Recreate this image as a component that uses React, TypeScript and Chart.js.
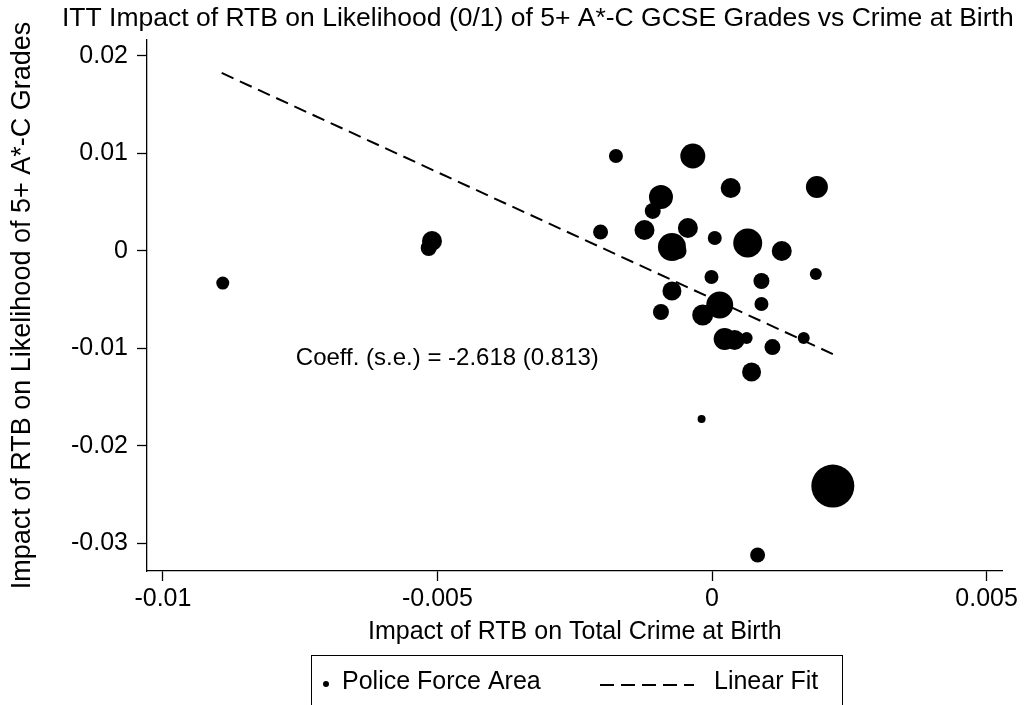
import React, { useEffect, useRef } from "react";
import { Chart, registerables } from "chart.js";

Chart.register(...registerables);

const FONT = "'Liberation Sans', Arial, sans-serif";

// Police force area estimates: impact on crime at birth (x) and on GCSE likelihood (y)
const crimeImpact = [
  -0.00891, -0.0051, -0.00516, -0.00175, -0.00035, 0.00034, 0.00191, -0.00093,
  -0.00108, -0.00203, -0.00123, -0.00073, -0.00061, -0.00044, 0.00005, 0.00065,
  0.00127, 0.00189, -0.00001, 0.0009, -0.00073, 0.0009, -0.00093, 0.00014,
  -0.00017, 0.00023, 0.00041, 0.00063, 0.0011, 0.00167, 0.00072, -0.00019,
  0.0022, 0.00083,
];
const gradeImpact = [
  -0.00331, 0.00101, 0.00029, 0.00973, 0.00973, 0.00645, 0.00655, 0.00552,
  0.00409, 0.00193, 0.00214, 0.00039, -0.00002, 0.00234, 0.00131, 0.0008,
  -0.00002, -0.00238, -0.00269, -0.0031, -0.00413, -0.00546, -0.00628, -0.00556,
  -0.00659, -0.00906, -0.00916, -0.00895, -0.00988, -0.00895, -0.01244, -0.01727,
  -0.02415, -0.03123,
];
// analytic weight of each area (marker radius)
const areaWeight = [
  6.5, 10, 8, 7, 12.5, 10, 11, 12,
  8, 7.5, 10, 14, 8, 10, 7, 14.5,
  10, 6, 7, 8, 9.5, 7, 8, 13.5,
  10.5, 11, 10, 6, 8, 6, 9.5, 4,
  21.5, 7.5,
];

const fitX = [-0.00893, 0.0022];
const fitY = [0.01826, -0.0106];

const xTicks = [-0.01, -0.005, 0, 0.005];
const xTickLabels = ["-0.01", "-0.005", "0", "0.005"];
const yTicks = [0.02, 0.01, 0, -0.01, -0.02, -0.03];
const yTickLabels = ["0.02", "0.01", "0", "-0.01", "-0.02", "-0.03"];

const titleText =
  "ITT Impact of RTB on Likelihood (0/1) of 5+ A*-C GCSE Grades vs Crime at Birth";
const xTitle = "Impact of RTB on Total Crime at Birth";
const yTitle = "Impact of RTB on Likelihood of 5+ A*-C Grades";
const annotation = "Coeff. (s.e.) = -2.618 (0.813)";
const annotationAt = { x: -0.00758, y: -0.011 };
const legendLabels = ["Police Force Area", "Linear Fit"];

function labelFor(values: number[], labels: string[], v: number) {
  let best = 0;
  for (let i = 0; i < values.length; i++) {
    if (Math.abs(values[i] - v) < Math.abs(values[best] - v)) best = i;
  }
  return labels[best];
}

const overlay = {
  id: "overlay",
  afterDraw(chart: any) {
    const ctx = chart.ctx;
    const xs = chart.scales.x;
    const ys = chart.scales.y;
    ctx.save();
    ctx.fillStyle = "#000";
    ctx.strokeStyle = "#000";
    ctx.textBaseline = "middle";
    ctx.textAlign = "left";
    // main title
    ctx.font = `26.5px ${FONT}`;
    ctx.fillText(titleText, 62, 19);
    // annotation
    ctx.font = `24px ${FONT}`;
    ctx.fillText(
      annotation,
      xs.getPixelForValue(annotationAt.x),
      ys.getPixelForValue(annotationAt.y)
    );
    // legend box
    ctx.lineWidth = 1;
    ctx.strokeRect(311.5, 655.5, 531, 80);
    const ly = 682;
    ctx.beginPath();
    ctx.arc(326, ly + 2, 3, 0, Math.PI * 2);
    ctx.fill();
    ctx.font = `25px ${FONT}`;
    ctx.fillText(legendLabels[0], 342, ly);
    ctx.lineWidth = 2;
    ctx.setLineDash([14, 7]);
    ctx.beginPath();
    ctx.moveTo(600, ly + 3);
    ctx.lineTo(694, ly + 3);
    ctx.stroke();
    ctx.setLineDash([]);
    ctx.fillText(legendLabels[1], 714, ly);
    ctx.restore();
  },
};

export default function App() {
  const ref = useRef<HTMLCanvasElement | null>(null);
  useEffect(() => {
    if (!ref.current) return;
    const points = crimeImpact.map((x, i) => ({ x, y: gradeImpact[i], r: areaWeight[i] }));
    const fit = fitX.map((x, i) => ({ x, y: fitY[i] }));
    const chart = new Chart(ref.current, {
      type: "bubble",
      data: {
        datasets: [
          {
            type: "bubble",
            label: legendLabels[0],
            data: points as any,
            backgroundColor: "#000",
            borderColor: "#000",
            borderWidth: 0,
          } as any,
          {
            type: "line",
            label: legendLabels[1],
            data: fit as any,
            borderColor: "#000",
            borderWidth: 2,
            borderDash: [13, 7],
            pointRadius: 0,
            fill: false,
            tension: 0,
          } as any,
        ],
      },
      options: {
        responsive: false,
        animation: false,
        events: [],
        layout: { padding: { left: 0, right: 21, top: 40, bottom: 0 } },
        plugins: {
          legend: { display: false },
          title: { display: false },
          tooltip: { enabled: false },
        },
        scales: {
          x: {
            type: "linear",
            min: -0.01029,
            max: 0.00529,
            afterBuildTicks: (s: any) => {
              s.ticks = xTicks.map((v) => ({ value: v }));
            },
            afterFit: (s: any) => {
              s.height = 134;
            },
            grid: {
              display: true,
              drawOnChartArea: false,
              drawTicks: true,
              tickLength: 10,
              tickWidth: 1.3,
              tickColor: "#000",
            },
            border: { display: true, color: "#000", width: 1.3 },
            ticks: {
              color: "#000",
              font: { family: FONT, size: 25 },
              padding: 3,
              autoSkip: false,
              maxRotation: 0,
              callback: (v: any) => labelFor(xTicks, xTickLabels, Number(v)),
            },
            title: {
              display: true,
              text: xTitle,
              color: "#000",
              font: { family: FONT, size: 25 },
              padding: { top: 0, bottom: 58 },
            },
          },
          y: {
            type: "linear",
            min: -0.03287,
            max: 0.02164,
            afterBuildTicks: (s: any) => {
              s.ticks = yTicks.map((v) => ({ value: v }));
            },
            afterFit: (s: any) => {
              s.width = 147;
            },
            grid: {
              display: true,
              drawOnChartArea: false,
              drawTicks: true,
              tickLength: 10,
              tickWidth: 1.3,
              tickColor: "#000",
            },
            border: { display: true, color: "#000", width: 1.3 },
            ticks: {
              color: "#000",
              font: { family: FONT, size: 25 },
              padding: 9,
              autoSkip: false,
              callback: (v: any) => labelFor(yTicks, yTickLabels, Number(v)),
            },
            title: {
              display: true,
              text: yTitle,
              color: "#000",
              font: { family: FONT, size: 27 },
              padding: { top: 6, bottom: 0 },
            },
          },
        },
      },
      plugins: [overlay],
    });
    return () => chart.destroy();
  }, []);
  return (
    <div style={{ position: "fixed", left: 0, top: 0, width: 1024, height: 705, background: "#fff" }}>
      <canvas ref={ref} width={1024} height={705} style={{ width: 1024, height: 705 }} />
    </div>
  );
}
